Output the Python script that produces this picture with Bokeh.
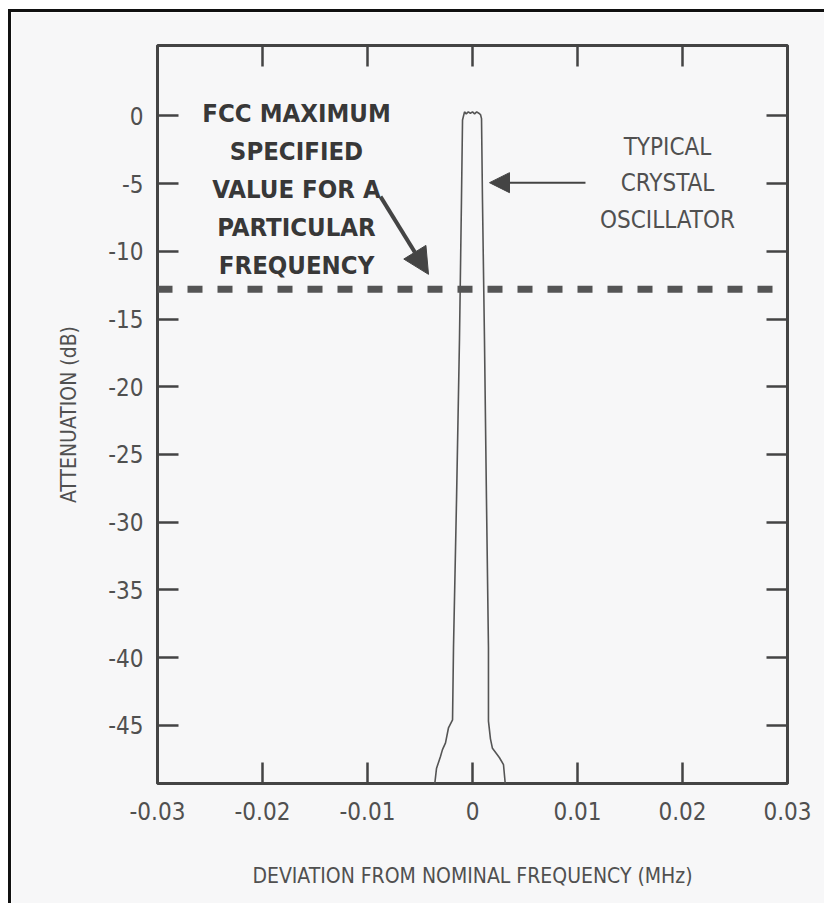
from bokeh.plotting import figure
from bokeh.models import (Range1d, LinearAxis, FixedTicker, Span, Arrow, NormalHead, Label,
                          CustomLabelingPolicy)
from bokeh.embed import file_html
from bokeh.resources import INLINE

# ---- data ----
freq_mhz = [-0.00362, -0.00343, -0.00305, -0.00286, -0.00257, -0.00229, -0.00190,
            -0.00181, -0.00152, -0.00124, -0.00105, -0.00095, -0.00076,
            -0.00060, -0.00040, -0.00020, 0.00000, 0.00020, 0.00040, 0.00060, 0.00076,
            0.00086, 0.00095, 0.00114, 0.00133, 0.00152, 0.00152, 0.00171, 0.00190,
            0.00229, 0.00257, 0.00295, 0.00314]
atten_db = [-49.5, -48.2, -47.3, -46.8, -46.3, -45.2, -44.6,
            -39.3, -28.3, -16.5, -6.2, -0.3, 0.3,
            0.15, 0.3, 0.2, 0.3, 0.15, 0.3, 0.2, 0.1,
            -0.2, -6.2, -16.5, -28.3, -39.3, -44.7, -46.0, -46.7,
            -47.1, -47.4, -47.9, -49.5]
fcc_limit_db = -12.8

x_tick_values = [-0.03, -0.02, -0.01, 0.0, 0.01, 0.02, 0.03]
x_tick_labels = ["-0.03", "-0.02", "-0.01", "0", "0.01", "0.02", "0.03"]
y_tick_values = [0, -5, -10, -15, -20, -25, -30, -35, -40, -45]
y_tick_labels = ["0", "-5", "-10", "-15", "-20", "-25", "-30", "-35", "-40", "-45"]

fcc_text = "FCC MAXIMUM\nSPECIFIED\nVALUE FOR A\nPARTICULAR\nFREQUENCY"
osc_text = "TYPICAL\nCRYSTAL\nOSCILLATOR"
x_label = "DEVIATION FROM NOMINAL FREQUENCY (MHz)"
y_label = "ATTENUATION (dB)"

# ---- styling ----
NARROW = "DejaVu Sans Condensed"
BG = "#f7f7f8"
INK = "#444444"
TXT = "#505050"

p = figure(width=816, height=894, output_backend="svg", toolbar_location=None,
           x_range=Range1d(-0.03, 0.03), y_range=Range1d(-49.3, 5.2),
           min_border_left=146, min_border_right=40, min_border_top=33, min_border_bottom=123,
           background_fill_color=BG, border_fill_color=BG)
p.styles = {"margin-left": "8px", "margin-top": "9px",
            "border-left": "3px solid #111111", "border-top": "3px solid #111111"}
p.grid.visible = False
p.outline_line_color = INK
p.outline_line_width = 3

xt = FixedTicker(ticks=x_tick_values)
yt = FixedTicker(ticks=y_tick_values)
xov = {v: s for v, s in zip(x_tick_values, x_tick_labels)}
yov = {v: s for v, s in zip(y_tick_values, y_tick_labels)}

bottom = p.below[0]
left = p.left[0]
bottom.ticker = xt
bottom.major_label_overrides = xov
left.ticker = yt
left.major_label_overrides = yov

no_labels = "return new Set()"
top = LinearAxis(ticker=xt, major_label_text_font_size="1px", major_label_standoff=0,
                 major_label_policy=CustomLabelingPolicy(code=no_labels))
right = LinearAxis(ticker=yt, major_label_text_font_size="1px", major_label_standoff=0,
                   major_label_policy=CustomLabelingPolicy(code=no_labels))
p.add_layout(top, "above")
p.add_layout(right, "right")

for ax in [bottom, left, top, right]:
    ax.axis_line_color = None
    ax.major_tick_in = 21
    ax.major_tick_out = 0
    ax.major_tick_line_color = INK
    ax.major_tick_line_width = 2.5
    ax.minor_tick_line_color = None

for ax in [bottom, left]:
    ax.major_label_text_font = NARROW
    ax.major_label_text_color = TXT
    ax.major_label_text_font_size = "24px"
    ax.axis_label_text_font = NARROW
    ax.axis_label_text_color = TXT
    ax.axis_label_text_font_style = "normal"
    ax.axis_label_text_font_size = "21px"

bottom.axis_label = x_label
bottom.major_label_standoff = 18
bottom.axis_label_standoff = 41
left.axis_label = y_label
left.major_label_standoff = 14
left.axis_label_standoff = 24

# FCC limit dashed line
p.add_layout(Span(location=fcc_limit_db, dimension="width", line_color="#555555",
                  line_width=7, line_dash="15 15"))

# spectrum
p.line(freq_mhz, atten_db, line_color="#555555", line_width=1.6)

# annotations
p.add_layout(Label(x=-0.01676, y=1.35, text=fcc_text, text_align="center", text_baseline="top",
                   text_font=NARROW, text_font_style="bold", text_font_size="25.5px",
                   text_color="#383838", text_line_height=1.27))
p.add_layout(Label(x=0.01857, y=-1.25, text=osc_text, text_align="center", text_baseline="top",
                   text_font=NARROW, text_font_size="24px", text_color=TXT, text_line_height=1.3))

p.add_layout(Arrow(end=NormalHead(size=20, fill_color=INK, line_color=INK),
                   x_start=0.01076, y_start=-4.93, x_end=0.00162, y_end=-4.93,
                   line_color=INK, line_width=2))
p.add_layout(Arrow(end=NormalHead(size=26, fill_color=INK, line_color=INK),
                   x_start=-0.00876, y_start=-5.96, x_end=-0.00419, y_end=-11.7,
                   line_color=INK, line_width=4))

open("out.html", "w").write(file_html(p, INLINE))
